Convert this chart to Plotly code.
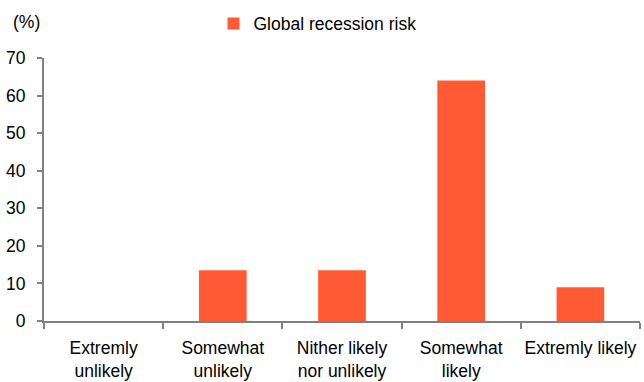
import plotly.graph_objects as go

categories = ["Extremly<br>unlikely", "Somewhat<br>unlikely", "Nither likely<br>nor unlikely", "Somewhat<br>likely", "Extremly likely"]
values = [0, 13.5, 13.5, 64, 9]
series_name = "Global recession risk"

fig = go.Figure()
fig.add_trace(go.Bar(x=categories, y=values, name=series_name,
                     marker=dict(color="#FF5A33", line=dict(width=0)), width=0.4))

font = dict(family="Liberation Sans, Arial, sans-serif", size=17.5, color="#000000")
fig.update_layout(
    width=644, height=382,
    margin=dict(l=44, r=4, t=58, b=61, autoexpand=False),
    paper_bgcolor="white", plot_bgcolor="white",
    font=font,
    showlegend=True,
    legend=dict(orientation="h", x=0.493, xanchor="center", xref="container",
                y=0.985, yanchor="top", yref="container", font=font, itemwidth=30),
)
fig.update_xaxes(showline=True, linecolor="#808080", linewidth=2, ticks="outside",
                 tickson="boundaries", ticklen=6, tickcolor="#808080", tickwidth=2,
                 showgrid=False, tickfont=font, ticklabelstandoff=10, tickangle=0,
                 automargin=False)
fig.update_yaxes(range=[0, 70], dtick=10, showline=True, linecolor="#808080", linewidth=2,
                 ticks="outside", ticklen=5, tickcolor="#808080", tickwidth=2,
                 showgrid=False, zeroline=False, tickfont=font, ticklabelstandoff=8,
                 automargin=False)
fig.add_annotation(text="(%)", xref="paper", yref="paper", x=-0.055, y=1.137,
                   xanchor="left", yanchor="middle", showarrow=False, font=font)
fig.write_html("out.html")
